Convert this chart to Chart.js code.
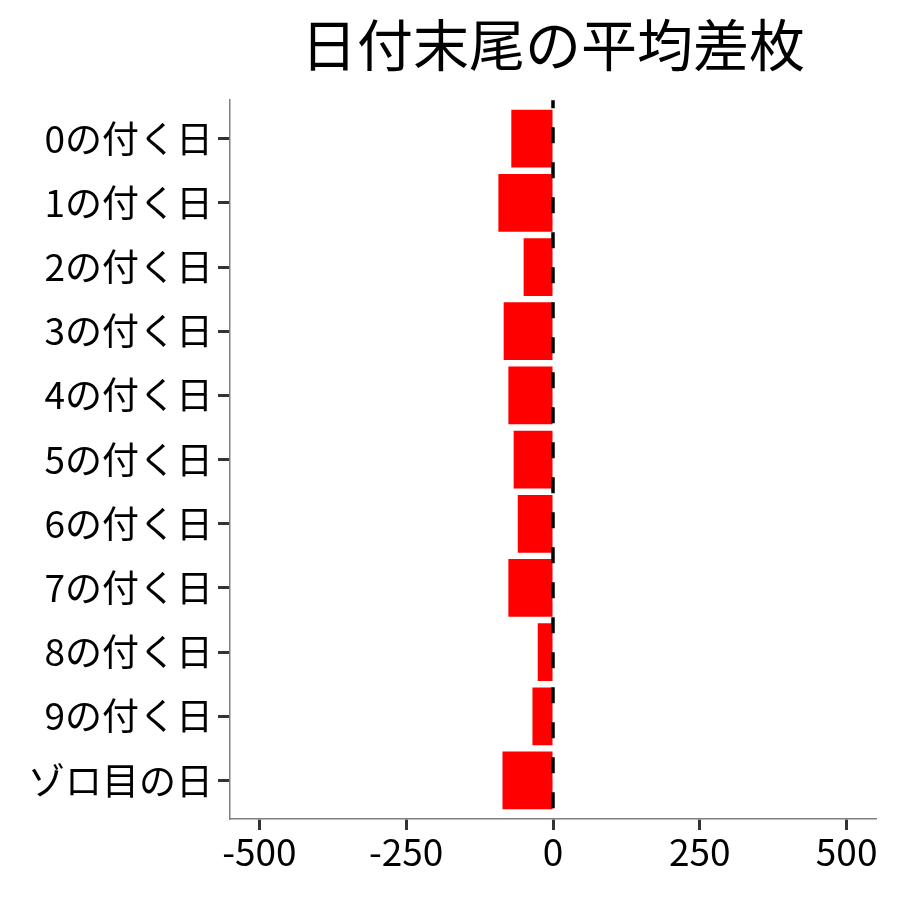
<!DOCTYPE html>
<html lang="ja">
<head>
<meta charset="UTF-8">
<title>日付末尾の平均差枚</title>
<script src="https://cdn.jsdelivr.net/npm/chart.js"></script>
<style>
  html, body { margin: 0; padding: 0; background: #fff; }
  #wrap { width: 900px; height: 900px; }
</style>
</head>
<body>
<div id="wrap"><canvas id="grafico" width="900" height="900"></canvas></div>
<script>
    // dados
    const categorias = ['0の付く日', '1の付く日', '2の付く日', '3の付く日', '4の付く日', '5の付く日',
        '6の付く日', '7の付く日', '8の付く日', '9の付く日', 'ゾロ目の日'];
    const diferenca = [-71, -93, -50, -84, -76, -67, -60, -76, -26, -35, -86];
    const ticksX = [-500, -250, 0, 250, 500];
    const titulo = '日付末尾の平均差枚';

    const fonte = '"Noto Sans CJK JP", "Noto Sans", sans-serif';

    // linha tracejada no zero
    const linhaZero = {
        id: 'linhaZero',
        afterDatasetsDraw(chart) {
            const ctx = chart.ctx;
            const area = chart.chartArea;
            const x = chart.scales.x.getPixelForValue(0);
            ctx.save();
            ctx.strokeStyle = '#000';
            ctx.lineWidth = 3.5;
            ctx.setLineDash([16, 19]);
            ctx.lineDashOffset = 8;
            ctx.beginPath();
            ctx.moveTo(x, area.top);
            ctx.lineTo(x, area.bottom);
            ctx.stroke();
            ctx.restore();
        }
    };

    const ctx = document.getElementById('grafico').getContext('2d');
    new Chart(ctx, {
        type: 'bar',
        data: {
            datasets: [{
                data: diferenca.map((v, i) => ({ x: v, y: i })),
                backgroundColor: '#ff0000',
                borderWidth: 0,
                barPercentage: 0.9,
                categoryPercentage: 1
            }]
        },
        options: {
            responsive: false,
            animation: false,
            indexAxis: 'y',
            layout: { padding: { left: 0, right: 24, top: 0, bottom: 0 } },
            plugins: {
                legend: { display: false },
                tooltip: { enabled: false },
                title: {
                    display: true,
                    text: titulo,
                    fullSize: false,
                    color: '#000',
                    font: { family: fonte, size: 56, weight: 'normal', lineHeight: 1.2 },
                    padding: { top: 11, bottom: 22 }
                }
            },
            scales: {
                x: {
                    type: 'linear',
                    min: -550,
                    max: 550,
                    afterBuildTicks: s => { s.ticks = ticksX.map(v => ({ value: v })); },
                    afterFit: s => { s.height = 81; },
                    ticks: {
                        color: '#000',
                        font: { family: fonte, size: 37 },
                        padding: 0,
                        maxRotation: 0
                    },
                    grid: {
                        drawOnChartArea: false,
                        drawTicks: true,
                        tickLength: 11,
                        tickWidth: 3,
                        tickColor: '#333'
                    },
                    border: { display: true, color: '#808080', width: 1.5 }
                },
                y: {
                    type: 'linear',
                    reverse: true,
                    offset: false,
                    min: -0.6,
                    max: 10.6,
                    afterBuildTicks: s => { s.ticks = categorias.map((c, i) => ({ value: i })); },
                    afterFit: s => { s.width = 230; },
                    ticks: {
                        color: '#000',
                        font: { family: fonte, size: 37 },
                        padding: 5,
                        callback: v => categorias[v]
                    },
                    grid: {
                        offset: false,
                        drawOnChartArea: false,
                        drawTicks: true,
                        tickLength: 12,
                        tickWidth: 3,
                        tickColor: '#333'
                    },
                    border: { display: true, color: '#808080', width: 1.5 }
                }
            }
        },
        plugins: [linhaZero]
    });
</script>
</body>
</html>
